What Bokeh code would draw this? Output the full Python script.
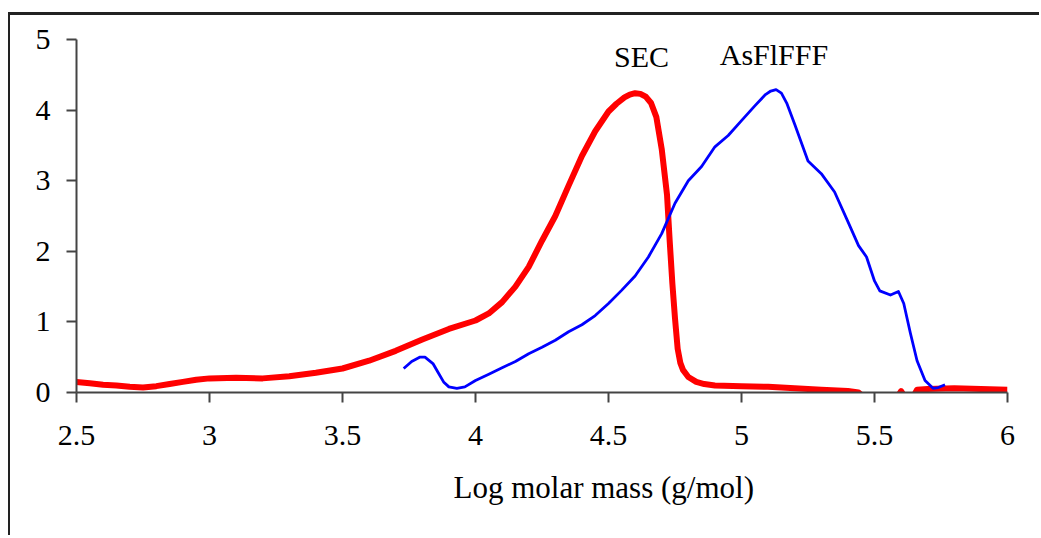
from bokeh.plotting import figure
from bokeh.models import Range1d, Label, FixedTicker, Title
from bokeh.embed import file_html
from bokeh.resources import INLINE

# ---- data ----
x_ticks = [2.5, 3, 3.5, 4, 4.5, 5, 5.5, 6]
x_tick_labels = ["2.5", "3", "3.5", "4", "4.5", "5", "5.5", "6"]
y_ticks = [0, 1, 2, 3, 4, 5]
y_tick_labels = ["0", "1", "2", "3", "4", "5"]

sec_x = [2.50, 2.55, 2.60, 2.65, 2.70, 2.75, 2.80, 2.85, 2.90, 2.95, 3.00, 3.10,
         3.20, 3.30, 3.40, 3.50, 3.60, 3.70, 3.80, 3.90, 4.00, 4.05, 4.10, 4.15,
         4.20, 4.25, 4.30, 4.35, 4.40, 4.45, 4.50, 4.53, 4.56, 4.58, 4.60, 4.62,
         4.64, 4.66, 4.68, 4.70, 4.72, 4.73, 4.74, 4.75, 4.76, 4.77, 4.78, 4.80,
         4.83, 4.86, 4.90, 5.00, 5.10, 5.20, 5.30, 5.40, 5.44, 5.47, 5.58, 5.60,
         5.62, 5.64, 5.66, 5.70, 5.80, 5.90, 6.00]
sec_y = [0.15, 0.13, 0.11, 0.10, 0.08, 0.07, 0.09, 0.12, 0.15, 0.18, 0.20, 0.21,
         0.20, 0.23, 0.28, 0.34, 0.45, 0.59, 0.75, 0.90, 1.02, 1.12, 1.28, 1.50,
         1.78, 2.15, 2.50, 2.93, 3.35, 3.70, 3.98, 4.09, 4.18, 4.22, 4.24, 4.23,
         4.19, 4.10, 3.90, 3.45, 2.80, 2.15, 1.55, 1.05, 0.62, 0.42, 0.32, 0.22,
         0.15, 0.12, 0.10, 0.09, 0.08, 0.06, 0.04, 0.02, 0.00, -0.10, -0.10, 0.02,
         -0.10, -0.10, 0.04, 0.05, 0.06, 0.05, 0.04]

fff_x = [3.73, 3.76, 3.79, 3.81, 3.84, 3.86, 3.88, 3.90, 3.93, 3.96, 4.00, 4.05,
         4.10, 4.15, 4.20, 4.25, 4.30, 4.35, 4.40, 4.45, 4.50, 4.55, 4.60, 4.65,
         4.70, 4.75, 4.80, 4.85, 4.90, 4.95, 5.00, 5.05, 5.09, 5.11, 5.13, 5.15,
         5.17, 5.20, 5.25, 5.30, 5.35, 5.40, 5.44, 5.47, 5.50, 5.52, 5.56, 5.59,
         5.61, 5.635, 5.66, 5.69, 5.72, 5.74, 5.765]
fff_y = [0.34, 0.44, 0.50, 0.50, 0.41, 0.28, 0.15, 0.08, 0.06, 0.08, 0.17, 0.26,
         0.35, 0.44, 0.55, 0.64, 0.74, 0.86, 0.96, 1.09, 1.26, 1.45, 1.65, 1.92,
         2.25, 2.68, 3.00, 3.20, 3.48, 3.64, 3.85, 4.06, 4.22, 4.27, 4.29, 4.24,
         4.10, 3.80, 3.28, 3.10, 2.84, 2.42, 2.08, 1.92, 1.58, 1.44, 1.38, 1.43,
         1.26, 0.84, 0.45, 0.17, 0.06, 0.07, 0.11]

series_names = ["SEC", "AsFlFFF"]
x_title = "Log molar mass (g/mol)"

FONT = "Liberation Serif"

p = figure(width=1031, height=523, output_backend="svg", toolbar_location=None,
           x_range=Range1d(2.5, 6), y_range=Range1d(0, 5),
           min_border_left=66, min_border_right=34, min_border_top=24,
           min_border_bottom=146)
p.styles = {"margin-left": "8px", "margin-top": "12px",
            "border-left": "2px solid #222", "border-top": "3px solid #222"}

p.outline_line_color = None
p.xgrid.visible = False
p.ygrid.visible = False
p.background_fill_color = "white"
p.border_fill_color = "white"

p.line(sec_x, sec_y, line_color="#FF0000", line_width=6, line_join="round")
p.line(fff_x, fff_y, line_color="#0000FF", line_width=2.8, line_join="round")

for ax in (p.xaxis[0], p.yaxis[0]):
    ax.axis_line_color = "#444444"
    ax.axis_line_width = 2
    ax.major_tick_line_color = "#444444"
    ax.major_tick_line_width = 2
    ax.major_tick_in = 0
    ax.major_tick_out = 10
    ax.minor_tick_line_color = None
    ax.major_label_text_font = FONT
    ax.major_label_text_font_size = "30px"
    ax.major_label_text_color = "black"

p.xaxis.ticker = FixedTicker(ticks=x_ticks)
p.xaxis.major_label_overrides = {t: l for t, l in zip(x_ticks, x_tick_labels)}
p.yaxis.ticker = FixedTicker(ticks=y_ticks)
p.yaxis.major_label_overrides = {t: l for t, l in zip(y_ticks, y_tick_labels)}
p.xaxis.major_label_standoff = 23
p.yaxis.major_label_standoff = 16

# x-axis title sits right of the frame centre in the reference
p.add_layout(Title(text=x_title, align="left", offset=377, standoff=41,
                   text_font=FONT, text_font_size="31px",
                   text_font_style="normal", text_color="black"), "below")

p.add_layout(Label(x=4.624, y=4.76, text=series_names[0], text_align="center",
                   text_baseline="middle", text_font=FONT,
                   text_font_size="30px", text_color="black"))
p.add_layout(Label(x=5.122, y=4.79, text=series_names[1], text_align="center",
                   text_baseline="middle", text_font=FONT,
                   text_font_size="30px", text_color="black"))

open("out.html", "w").write(file_html(p, INLINE))
